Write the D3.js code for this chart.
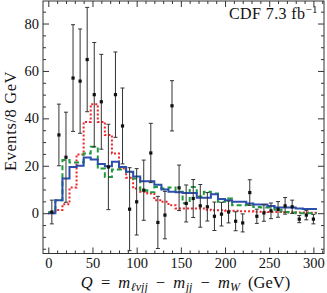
<!DOCTYPE html>
<html>
<head>
<meta charset="utf-8">
<script src="https://cdn.jsdelivr.net/npm/d3@7"></script>
<style>
  body { margin: 0; background: #fff; }
  text { font-family: "Liberation Serif", "Times New Roman", serif; }
</style>
</head>
<body>
<div id="chart"></div>
<script>
// bins are 8 GeV wide, starting at 0
const binWidth = 8
const binLow = d3.range(0, 38).map(i => i * binWidth)

// data points and their errors
const dataValues = [0.5, 33, 23.6, 57, 55.7, 64.8, 50, 47, 19.5, 50,
  36.8, 1.7, 4.8, 9.7, 25.4, -3.9, -0.8, 45.3, 10.7, 4.1,
  6.2, 3.1, 2.7, -1.3, -0.4, 0.5, -3.4, -4.1, 8.7, -1.3,
  0.1, 1, 1.6, 3.1, 2.7, -2.5, -0.8, -2.5]
const dataErrors = [5, 13, 19, 22.5, 22, 22, 22, 20, 18, 18,
  16, 17.5, 14, 12.7, 12.5, 11, 10, 10.6, 9.6, 7.8,
  8, 9, 6, 6, 5, 4.6, 4, 3.8, 5.4, 3,
  3.5, 3.3, 3.3, 3.5, 2.8, 1.5, 2, 2]

// blue solid histogram
const blueValues = [0, 5.5, 14.6, 19.5, 20, 23.5, 22.7, 20.7, 19.8, 21.7,
  19.5, 17.5, 15.5, 13.5, 13.5, 12, 10, 9, 8.8, 8.5,
  8.5, 6.5, 6.5, 8, 6, 5.5, 4.8, 4.8, 4.1, 3.7,
  3.7, 3, 2.4, 2.4, 2.4, 2, 1.8, 1.8]
// green dashed histogram
const greenValues = [0.5, 5.5, 22.4, 21.4, 21.4, 25.2, 28, 18.8, 15.3, 18.4,
  18.4, 17.4, 14.6, 9.7, 8.8, 11, 10.4, 10.8, 9, 4.2,
  11, 7, 9, 8.3, 4.8, 6.2, 3.4, 3.4, 3.6, 2.6,
  2.4, 2.4, 1.5, 0.5, 0.3, 0, 0, 0]
// red dotted histogram
const redValues = [0, 1.3, 3.8, 10.8, 24.8, 38.5, 46, 38.5, 33, 25.2,
  18.8, 15, 10.4, 9, 8.3, 5.5, 4.8, 3.4, 2, 2,
  2, 2, 1.5, 1.2, 1.2, 1, 1, 0.8, 0.8, 0.6,
  0.6, 0.5, 0.5, 0.4, 0.4, 0.3, 0.3, 0.2]

const xMajor = [0, 50, 100, 150, 200, 250, 300]
const yMajor = [0, 20, 40, 60, 80]

const width = 327
const height = 293
const plot = {left: 43, right: 324, top: 1, bottom: 253.5}

const svg = d3.select("#chart")
  .append("svg")
    .attr("width", width)
    .attr("height", height)

const x = d3.scaleLinear()
  .domain([-6, 312])
  .range([plot.left, plot.right])
const y = d3.scaleLinear()
  .domain([-17, 89.5])
  .range([plot.bottom, plot.top])

const plotArea = svg.append("g")

// histograms as step lines
const stepLine = d3.line()
  .x(d => x(d[0]))
  .y(d => y(d[1]))

function steps(values) {
  const pts = []
  values.forEach((v, i) => {
    pts.push([binLow[i], v])
    pts.push([binLow[i] + binWidth, v])
  })
  return pts
}

plotArea.append("path")
  .attr("d", stepLine(steps(redValues)))
  .attr("fill", "none")
  .attr("stroke", "#f0242a")
  .attr("stroke-width", 2)
  .attr("stroke-dasharray", "2,2")

plotArea.append("path")
  .attr("d", stepLine(steps(greenValues)))
  .attr("fill", "none")
  .attr("stroke", "#1f9a3c")
  .attr("stroke-width", 2)
  .attr("stroke-dasharray", "5,3")

plotArea.append("path")
  .attr("d", stepLine(steps(blueValues)))
  .attr("fill", "none")
  .attr("stroke", "#2c4fae")
  .attr("stroke-width", 2)

// data points with error bars
const points = binLow.map((lo, i) => ({q: lo + binWidth / 2, v: dataValues[i], e: dataErrors[i]}))

const pointG = plotArea.selectAll(".pt")
  .data(points)
  .enter()
  .append("g")
    .attr("class", "pt")

pointG.append("line")
  .attr("x1", d => x(d.q)).attr("x2", d => x(d.q))
  .attr("y1", d => y(d.v + d.e)).attr("y2", d => y(d.v - d.e))
  .attr("stroke", "#333").attr("stroke-width", 1)
pointG.append("line")
  .attr("x1", d => x(d.q) - 2).attr("x2", d => x(d.q) + 2)
  .attr("y1", d => y(d.v + d.e)).attr("y2", d => y(d.v + d.e))
  .attr("stroke", "#333").attr("stroke-width", 1)
pointG.append("line")
  .attr("x1", d => x(d.q) - 2).attr("x2", d => x(d.q) + 2)
  .attr("y1", d => y(d.v - d.e)).attr("y2", d => y(d.v - d.e))
  .attr("stroke", "#333").attr("stroke-width", 1)
pointG.append("rect")
  .attr("x", d => x(d.q) - 1.6).attr("y", d => y(d.v) - 1.6)
  .attr("width", 3.2).attr("height", 3.2)
  .attr("fill", "#111")

// frame
svg.append("rect")
  .attr("x", plot.left).attr("y", plot.top)
  .attr("width", plot.right - plot.left)
  .attr("height", plot.bottom - plot.top)
  .attr("fill", "none")
  .attr("stroke", "#333")
  .attr("stroke-width", 1)

// ticks, inward on all four sides
const xMinor = d3.range(0, 311, 10).filter(v => v % 50 != 0)
const yMinor = d3.range(-15, 90, 5).filter(v => v % 20 != 0)

function axisSet(axisFn, scale, major, minor, transform, showLabels) {
  const gMinor = svg.append("g").attr("transform", transform)
    .call(axisFn(scale).tickValues(minor).tickSize(-3).tickFormat(""))
  const gMajor = svg.append("g").attr("transform", transform)
    .call(axisFn(scale).tickValues(major).tickSize(-6).tickPadding(4)
      .tickFormat(showLabels ? d3.format("d") : ""))
  ;[gMinor, gMajor].forEach(g => {
    g.select(".domain").remove()
    g.selectAll(".tick line").attr("stroke", "#333")
  })
  gMajor.selectAll("text")
    .attr("fill", "#111")
    .style("font-size", "14.5px")
    .style("font-family", "'Liberation Serif', serif")
  return gMajor
}

axisSet(d3.axisBottom, x, xMajor, xMinor, `translate(0,${plot.bottom})`, true)
axisSet(d3.axisTop, x, xMajor, xMinor, `translate(0,${plot.top})`, false)
axisSet(d3.axisLeft, y, yMajor, yMinor, `translate(${plot.left},0)`, true)
axisSet(d3.axisRight, y, yMajor, yMinor, `translate(${plot.right},0)`, false)

// axis titles
const xTitle = svg.append("text")
  .attr("x", (plot.left + plot.right) / 2 + 2)
  .attr("y", 288)
  .attr("text-anchor", "middle")
  .style("font-size", "16.5px")
  .style("word-spacing", "4px")
  .attr("fill", "#111")
xTitle.append("tspan").style("font-style", "italic").text("Q")
xTitle.append("tspan").text(" = ")
xTitle.append("tspan").style("font-style", "italic").text("m")
xTitle.append("tspan").style("font-style", "italic").style("font-size", "12px").attr("dy", 3).attr("dx", 0.5).text("ℓνjj")
xTitle.append("tspan").attr("dy", -3).text(" − ")
xTitle.append("tspan").style("font-style", "italic").text("m")
xTitle.append("tspan").style("font-style", "italic").style("font-size", "12px").attr("dy", 3).attr("dx", 0.5).text("jj")
xTitle.append("tspan").attr("dy", -3).text(" − ")
xTitle.append("tspan").style("font-style", "italic").text("m")
xTitle.append("tspan").style("font-style", "italic").style("font-size", "12px").attr("dy", 3).text("W")
xTitle.append("tspan").attr("dy", -3).text("  (GeV)")

svg.append("text")
  .attr("transform", "translate(16,121) rotate(-90)")
  .attr("text-anchor", "middle")
  .style("font-size", "16.5px")
  .style("letter-spacing", "0.6px")
  .attr("fill", "#111")
  .text("Events/8 GeV")

// luminosity label
const lumi = svg.append("text")
  .attr("x", 318)
  .attr("y", 19)
  .attr("text-anchor", "end")
  .style("font-size", "16px")
  .style("letter-spacing", "0.4px")
  .attr("fill", "#111")
lumi.append("tspan").text("CDF 7.3 fb")
lumi.append("tspan").style("font-size", "11px").attr("dy", -6).text("−1")
</script>
</body>
</html>
